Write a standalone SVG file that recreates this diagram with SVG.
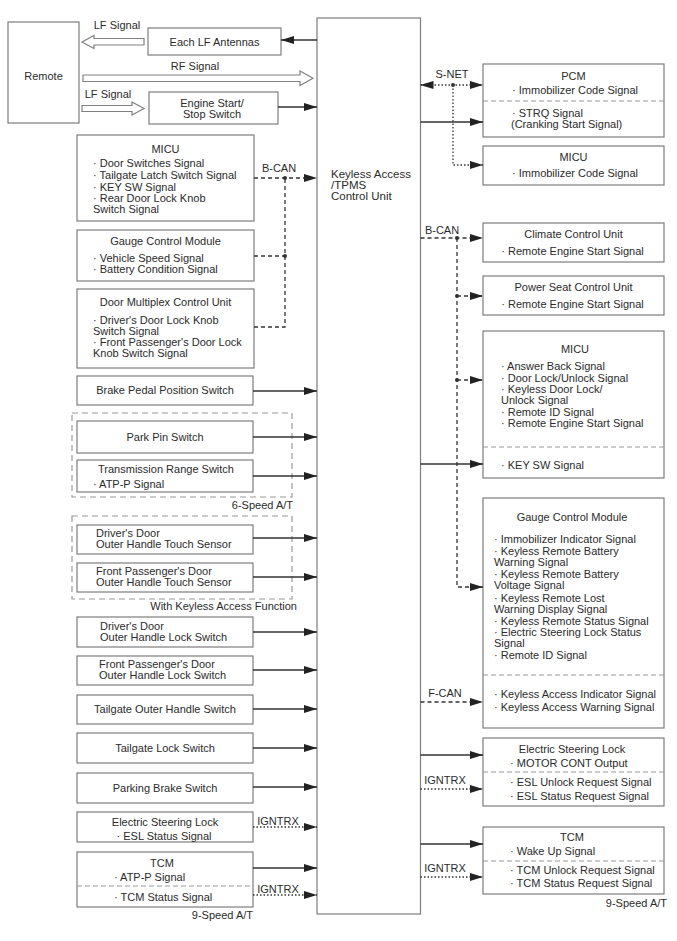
<svg xmlns="http://www.w3.org/2000/svg" width="677" height="941" viewBox="0 0 677 941">
<style>
.t{font-family:"Liberation Sans",Arial,sans-serif;font-size:11px;fill:#2b2b2b}
.c{text-anchor:middle}
.r{text-anchor:end}
.box{fill:#fff;stroke:#7d7d7d;stroke-width:1.2}
.grp{fill:none;stroke:#9a9a9a;stroke-width:1.2;stroke-dasharray:6 4}
.div{stroke:#9a9a9a;stroke-width:1.2;stroke-dasharray:5 3}
.hol{fill:#fff;stroke:#808080;stroke-width:1.2}
.s{fill:none;stroke:#333;stroke-width:1.3}
.d{fill:none;stroke:#333;stroke-width:1.3;stroke-dasharray:4 3}
.o{fill:none;stroke:#333;stroke-width:1.3;stroke-dasharray:1.5 2}
.ah{marker-end:url(#arr)}
.as{marker-start:url(#arrs)}
.dot{fill:#333}
</style>
<defs>
<marker id="arr" markerUnits="userSpaceOnUse" markerWidth="13" markerHeight="8" refX="13" refY="4" orient="auto">
<path d="M0,0 L13,4 L0,8 z" fill="#222"/>
</marker>
<marker id="arrs" markerUnits="userSpaceOnUse" markerWidth="13" markerHeight="8" refX="0" refY="4" orient="auto">
<path d="M13,0 L0,4 L13,8 z" fill="#222"/>
</marker>
</defs>

<g id="n-remote"><rect class="box" x="8" y="22" width="71" height="101"/><text class="t c" x="43.5" y="80">Remote</text></g>
<g id="n-lf-antennas"><rect class="box" x="148" y="28" width="133" height="27"/><text class="t c" x="214.5" y="46">Each LF Antennas</text></g>
<g id="n-engine-start"><rect class="box" x="149" y="92" width="129" height="32"/><text class="t c" x="212" y="107">Engine Start/</text><text class="t c" x="212" y="118">Stop Switch</text></g>

<g id="n-micu-left"><rect class="box" x="77" y="135" width="177" height="86"/>
<text class="t c" x="165.5" y="153">MICU</text>
<text class="t" x="93" y="167">· Door Switches Signal</text>
<text class="t" x="93" y="179">· Tailgate Latch Switch Signal</text>
<text class="t" x="93" y="190.5">· KEY SW Signal</text>
<text class="t" x="93" y="202">· Rear Door Lock Knob</text>
<text class="t" x="93" y="213">Switch Signal</text></g>

<g id="n-gcm-left"><rect class="box" x="77" y="230" width="177" height="51"/>
<text class="t c" x="165.5" y="245">Gauge Control Module</text>
<text class="t" x="93" y="261.5">· Vehicle Speed Signal</text>
<text class="t" x="93" y="273">· Battery Condition Signal</text></g>

<g id="n-door-multiplex"><rect class="box" x="77" y="289" width="177" height="79"/>
<text class="t c" x="165.5" y="306">Door Multiplex Control Unit</text>
<text class="t" x="93" y="323.5">· Driver's Door Lock Knob</text>
<text class="t" x="93" y="334.5">Switch Signal</text>
<text class="t" x="93" y="345.5">· Front Passenger's Door Lock</text>
<text class="t" x="93" y="356.5">Knob Switch Signal</text></g>

<g id="n-brake-pedal"><rect class="box" x="77" y="376" width="176" height="29"/><text class="t c" x="165" y="394">Brake Pedal Position Switch</text></g>

<g id="g-6speed"><rect class="grp" x="72" y="413" width="220" height="84"/><text class="t r" x="293" y="509">6-Speed A/T</text></g>
<g id="n-park-pin"><rect class="box" x="77" y="421" width="176" height="32"/><text class="t c" x="165" y="441">Park Pin Switch</text></g>
<g id="n-trs"><rect class="box" x="77" y="460" width="176" height="32"/><text class="t c" x="166" y="473">Transmission Range Switch</text><text class="t" x="93" y="488">· ATP-P Signal</text></g>

<g id="g-keyless"><rect class="grp" x="72" y="516" width="220" height="83"/><text class="t r" x="297" y="610">With Keyless Access Function</text></g>
<g id="n-touch-driver"><rect class="box" x="77" y="525" width="176" height="29"/><text class="t" x="96" y="536.5">Driver's Door</text><text class="t" x="96" y="547.5">Outer Handle Touch Sensor</text></g>
<g id="n-touch-fp"><rect class="box" x="77" y="563" width="176" height="29"/><text class="t" x="96" y="575">Front Passenger's Door</text><text class="t" x="96" y="586">Outer Handle Touch Sensor</text></g>

<g id="n-lock-driver"><rect class="box" x="77" y="617" width="176" height="30"/><text class="t" x="100" y="630">Driver's Door</text><text class="t" x="100" y="641">Outer Handle Lock Switch</text></g>
<g id="n-lock-fp"><rect class="box" x="77" y="656" width="176" height="29"/><text class="t" x="99" y="668">Front Passenger's Door</text><text class="t" x="99" y="679">Outer Handle Lock Switch</text></g>
<g id="n-tailgate-handle"><rect class="box" x="77" y="695" width="176" height="29"/><text class="t c" x="165" y="713">Tailgate Outer Handle Switch</text></g>
<g id="n-tailgate-lock"><rect class="box" x="77" y="733" width="176" height="30"/><text class="t c" x="165" y="751.5">Tailgate Lock Switch</text></g>
<g id="n-parking-brake"><rect class="box" x="77" y="773" width="176" height="30"/><text class="t c" x="165" y="791.5">Parking Brake Switch</text></g>
<g id="n-esl-left"><rect class="box" x="77" y="812" width="176" height="30"/><text class="t c" x="165" y="826">Electric Steering Lock</text><text class="t c" x="164" y="839.5">· ESL Status Signal</text></g>
<g id="n-tcm-left"><rect class="box" x="77" y="852" width="176" height="55"/>
<text class="t c" x="162" y="866.5">TCM</text>
<text class="t" x="114" y="881">· ATP-P Signal</text>
<line class="div" x1="77" y1="886" x2="253" y2="886"/>
<text class="t" x="114" y="900.5">· TCM Status Signal</text>
<text class="t r" x="253" y="919">9-Speed A/T</text></g>

<g id="n-keyless-unit"><rect class="box" x="317" y="18" width="103.5" height="896"/>
<text class="t" x="331" y="178" style="font-size:11.5px">Keyless Access</text>
<text class="t" x="331" y="189" style="font-size:11.5px">/TPMS</text>
<text class="t" x="331" y="200" style="font-size:11.5px">Control Unit</text></g>

<g id="n-pcm"><rect class="box" x="483" y="64" width="181" height="73"/>
<text class="t c" x="573.5" y="80">PCM</text>
<text class="t c" x="575" y="94">· Immobilizer Code Signal</text>
<line class="div" x1="483" y1="101" x2="664" y2="101"/>
<text class="t" x="512" y="117">· STRQ Signal</text>
<text class="t" x="511" y="128">(Cranking Start Signal)</text></g>

<g id="n-micu-right-1"><rect class="box" x="483" y="146" width="181" height="39"/>
<text class="t c" x="573.5" y="160.5">MICU</text>
<text class="t c" x="575" y="177">· Immobilizer Code Signal</text></g>

<g id="n-climate"><rect class="box" x="483" y="223" width="181" height="39"/>
<text class="t c" x="573.5" y="238">Climate Control Unit</text>
<text class="t c" x="572.5" y="255">· Remote Engine Start Signal</text></g>

<g id="n-power-seat"><rect class="box" x="483" y="276" width="181" height="39"/>
<text class="t c" x="573.5" y="291">Power Seat Control Unit</text>
<text class="t c" x="572.5" y="308">· Remote Engine Start Signal</text></g>

<g id="n-micu-right-2"><rect class="box" x="483" y="331" width="181" height="147"/>
<text class="t c" x="575" y="353">MICU</text>
<text class="t" x="501" y="369.5">· Answer Back Signal</text>
<text class="t" x="501" y="381.5">· Door Lock/Unlock Signal</text>
<text class="t" x="501" y="393">· Keyless Door Lock/</text>
<text class="t" x="501" y="404">Unlock Signal</text>
<text class="t" x="501" y="415.5">· Remote ID Signal</text>
<text class="t" x="501" y="427">· Remote Engine Start Signal</text>
<line class="div" x1="483" y1="447" x2="664" y2="447"/>
<text class="t" x="501" y="469">· KEY SW Signal</text></g>

<g id="n-gcm-right"><rect class="box" x="483" y="498" width="181" height="230"/>
<text class="t c" x="572" y="521">Gauge Control Module</text>
<text class="t" x="494" y="543">· Immobilizer Indicator Signal</text>
<text class="t" x="494" y="555">· Keyless Remote Battery</text>
<text class="t" x="494" y="566">Warning Signal</text>
<text class="t" x="494" y="577.5">· Keyless Remote Battery</text>
<text class="t" x="494" y="588.5">Voltage Signal</text>
<text class="t" x="494" y="601.5">· Keyless Remote Lost</text>
<text class="t" x="494" y="612.5">Warning Display Signal</text>
<text class="t" x="494" y="624.5">· Keyless Remote Status Signal</text>
<text class="t" x="494" y="636">· Electric Steering Lock Status</text>
<text class="t" x="494" y="647">Signal</text>
<text class="t" x="494" y="659">· Remote ID Signal</text>
<line class="div" x1="483" y1="675" x2="664" y2="675"/>
<text class="t" x="494" y="698">· Keyless Access Indicator Signal</text>
<text class="t" x="494" y="711">· Keyless Access Warning Signal</text></g>

<g id="n-esl-right"><rect class="box" x="483" y="738" width="181" height="68"/>
<text class="t c" x="572" y="753">Electric Steering Lock</text>
<text class="t" x="510" y="766.5">· MOTOR CONT Output</text>
<line class="div" x1="483" y1="772" x2="664" y2="772"/>
<text class="t" x="510" y="786">· ESL Unlock Request Signal</text>
<text class="t" x="510" y="799.5">· ESL Status Request Signal</text></g>

<g id="n-tcm-right"><rect class="box" x="483" y="827" width="181" height="67"/>
<text class="t c" x="572" y="841">TCM</text>
<text class="t" x="510" y="854.5">· Wake Up Signal</text>
<line class="div" x1="483" y1="861" x2="664" y2="861"/>
<text class="t" x="510" y="874">· TCM Unlock Request Signal</text>
<text class="t" x="510" y="887">· TCM Status Request Signal</text>
<text class="t r" x="667" y="906.5">9-Speed A/T</text></g>

<g id="connectors">
<polygon class="hol" points="144,38.5 94,38.5 94,35.5 82,42 94,48.5 94,45 144,45"/>
<text class="t c" x="117" y="29">LF Signal</text>
<polygon class="hol" points="83,75 300,75 300,71 313,78.3 300,85.5 300,81.5 83,81.5"/>
<text class="t c" x="195" y="70">RF Signal</text>
<polygon class="hol" points="82,105.5 132,105.5 132,102 144,108.5 132,115 132,111.5 82,111.5"/>
<text class="t c" x="108" y="98">LF Signal</text>

<line class="s ah" x1="317" y1="40" x2="281" y2="40"/>
<line class="s ah" x1="278" y1="107" x2="317" y2="107"/>

<polyline class="d ah" points="254,178 317,178"/>
<polyline class="d" points="254,256 285,256"/>
<polyline class="d" points="254,327 285,327 285,178"/>
<circle class="dot" cx="285" cy="178" r="2"/>
<circle class="dot" cx="285" cy="256" r="2"/>
<text class="t c" x="279" y="172">B-CAN</text>

<line class="s ah" x1="253" y1="391" x2="317" y2="391"/>
<line class="s ah" x1="253" y1="437" x2="317" y2="437"/>
<line class="s ah" x1="253" y1="476" x2="317" y2="476"/>
<line class="s ah" x1="253" y1="538" x2="317" y2="538"/>
<line class="s ah" x1="253" y1="577" x2="317" y2="577"/>
<line class="s ah" x1="253" y1="632" x2="317" y2="632"/>
<line class="s ah" x1="253" y1="670" x2="317" y2="670"/>
<line class="s ah" x1="253" y1="709" x2="317" y2="709"/>
<line class="s ah" x1="253" y1="748" x2="317" y2="748"/>
<line class="s ah" x1="253" y1="787" x2="317" y2="787"/>
<line class="o ah" x1="253" y1="827" x2="317" y2="827"/>
<text class="t c" x="278" y="824.5">IGNTRX</text>
<line class="s ah" x1="253" y1="868" x2="317" y2="868"/>
<line class="o ah" x1="253" y1="895" x2="317" y2="895"/>
<text class="t c" x="278" y="893">IGNTRX</text>

<line class="o as ah" x1="420.5" y1="85" x2="483" y2="85"/>
<polyline class="o ah" points="453,85 453,165 483,165"/>
<circle class="dot" cx="453" cy="85" r="2"/>
<text class="t c" x="452" y="78">S-NET</text>
<line class="s ah" x1="420.5" y1="122" x2="483" y2="122"/>

<line class="d ah" x1="420.5" y1="238" x2="483" y2="238"/>
<line class="d ah" x1="457" y1="296" x2="483" y2="296"/>
<line class="d ah" x1="457" y1="380" x2="483" y2="380"/>
<polyline class="d ah" points="457,238 457,587 483,587"/>
<circle class="dot" cx="457" cy="238" r="2"/>
<circle class="dot" cx="457" cy="296" r="2"/>
<circle class="dot" cx="457" cy="380" r="2"/>
<text class="t c" x="442" y="234">B-CAN</text>

<line class="s ah" x1="420.5" y1="464" x2="483" y2="464"/>
<line class="d ah" x1="420.5" y1="702" x2="483" y2="702"/>
<text class="t c" x="445" y="697">F-CAN</text>

<line class="s ah" x1="420.5" y1="755" x2="483" y2="755"/>
<line class="o ah" x1="420.5" y1="789" x2="483" y2="789"/>
<text class="t c" x="445" y="784">IGNTRX</text>
<line class="s ah" x1="420.5" y1="844" x2="483" y2="844"/>
<line class="o ah" x1="420.5" y1="877" x2="483" y2="877"/>
<text class="t c" x="445" y="872">IGNTRX</text>
</g>
</svg>
